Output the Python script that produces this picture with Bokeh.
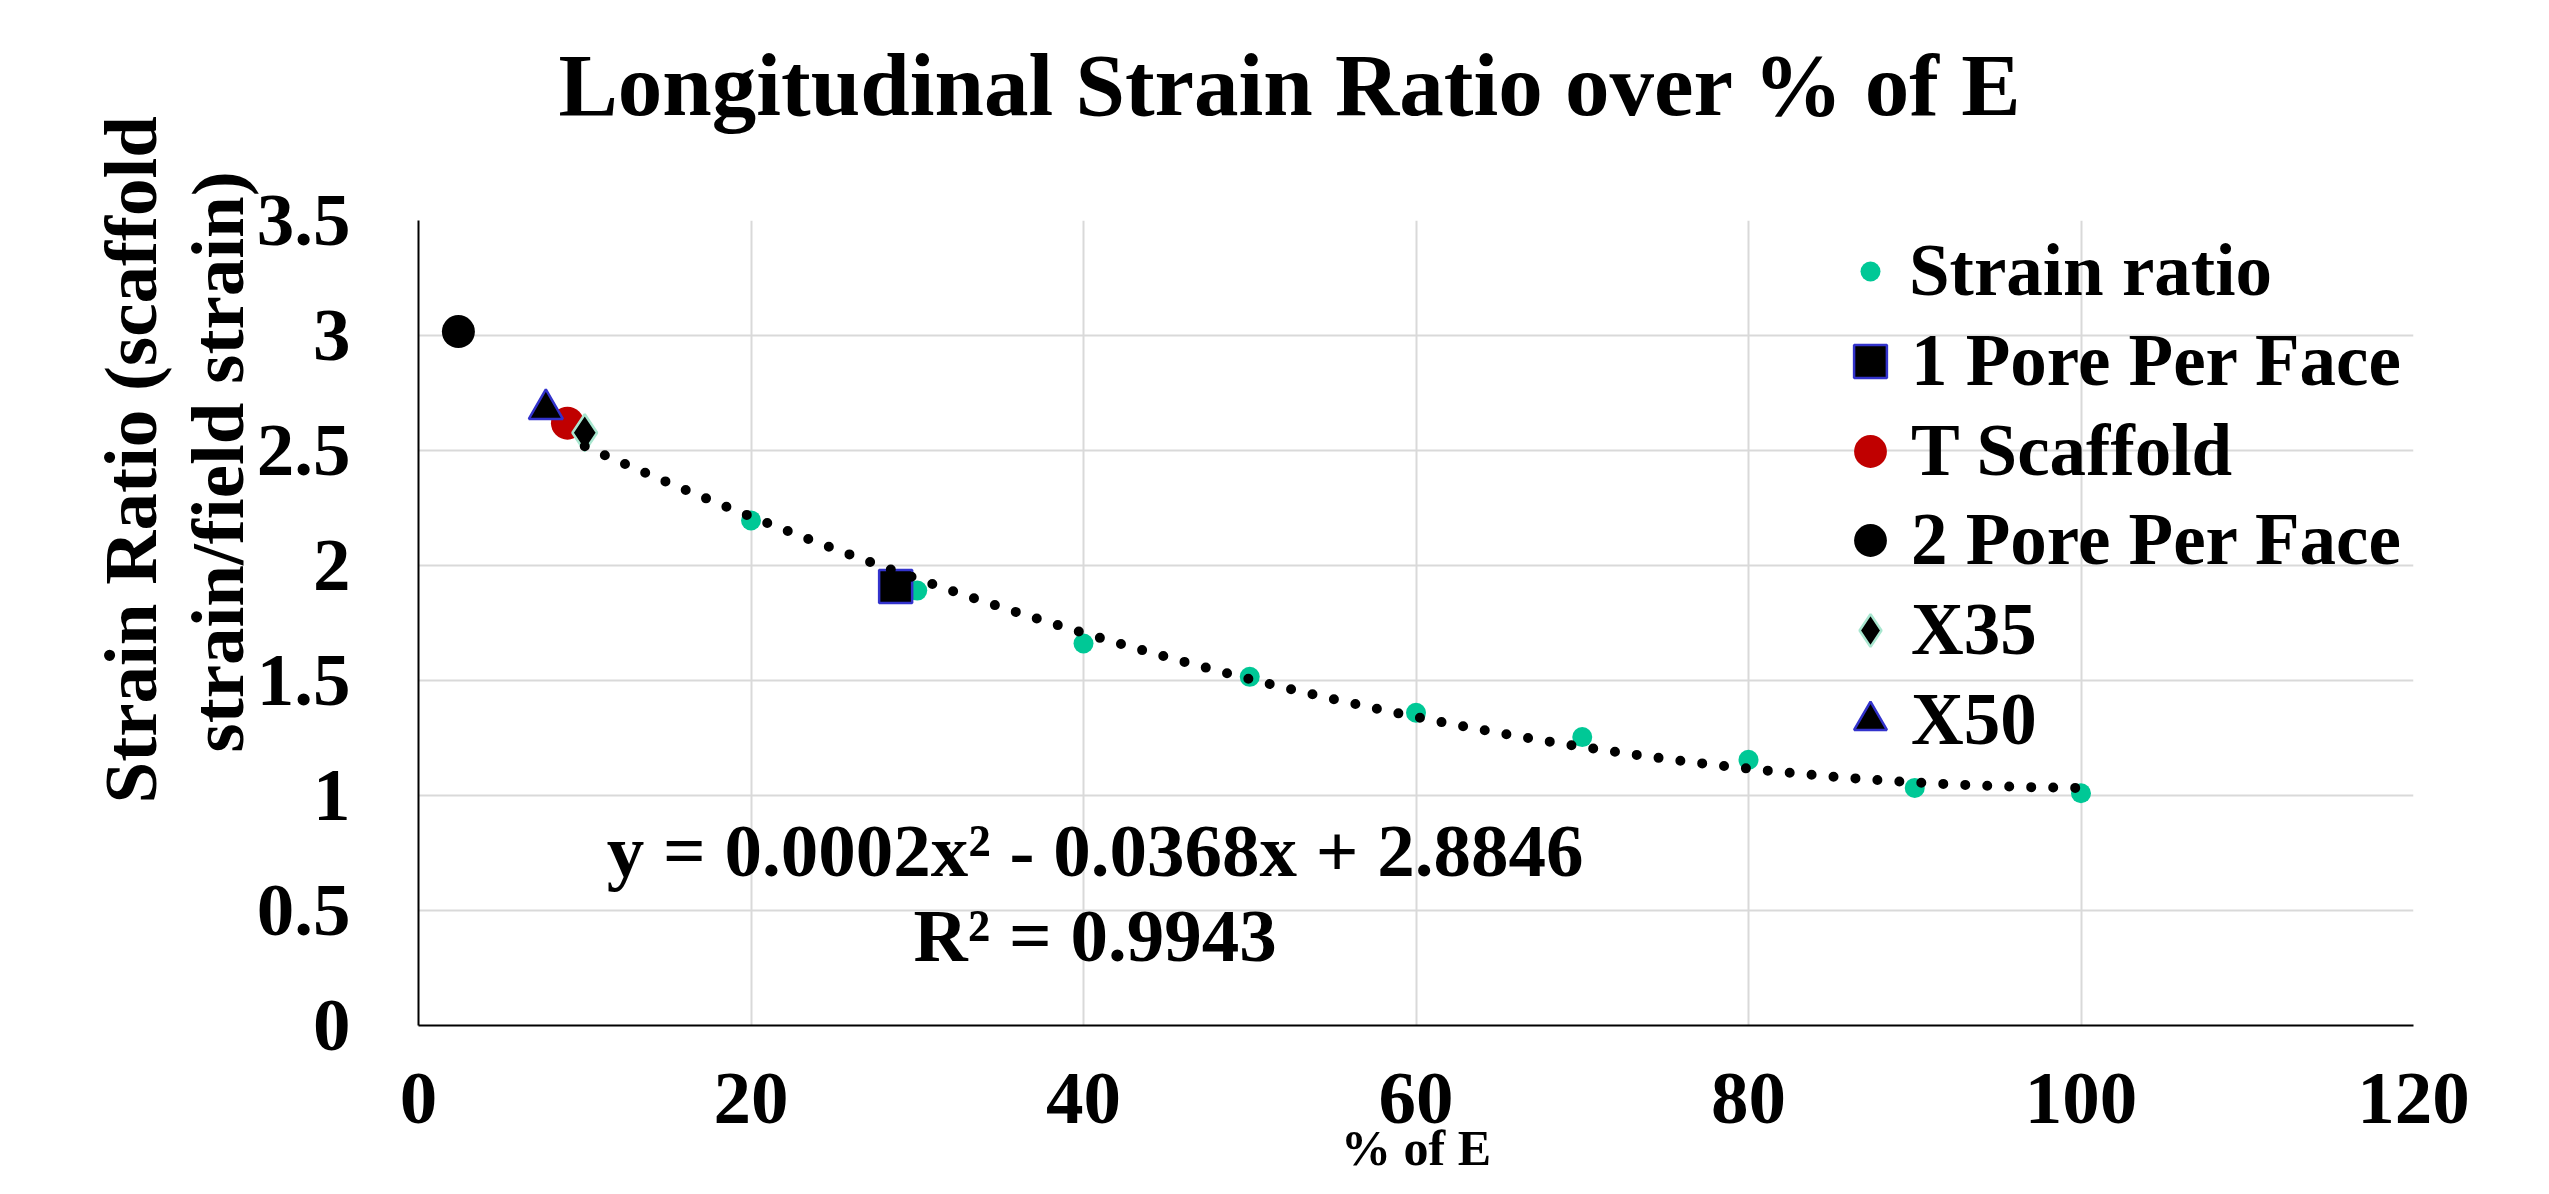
import numpy as np
from bokeh.plotting import figure
from bokeh.models import (Range1d, FixedTicker, Label, Legend, LegendItem,
                          NumeralTickFormatter, Title)
from bokeh.embed import file_html
from bokeh.resources import INLINE

# ---------------- data ----------------
pct_e = [10, 20, 30, 40, 50, 60, 70, 80, 90, 100]
strain_ratio = [2.57, 2.196, 1.891, 1.661, 1.516, 1.360, 1.254, 1.155, 1.033, 1.010]

one_pore_x = [28.7]
one_pore_y = [1.909]
t_scaffold_x = [8.96]
t_scaffold_y = [2.619]
two_pore_x = [2.4]
two_pore_y = [3.017]
x35_x = [10.0]
x35_y = [2.577]
x50_x = [7.66]
x50_y = [2.68]

x_ticks = [0, 20, 40, 60, 80, 100, 120]
x_tick_labels = ["0", "20", "40", "60", "80", "100", "120"]
y_ticks = [0, 0.5, 1, 1.5, 2, 2.5, 3, 3.5]
y_tick_labels = ["0", "0.5", "1", "1.5", "2", "2.5", "3", "3.5"]

title_text = "Longitudinal Strain Ratio over % of E"
x_title = "% of E"
y_title_lines = ["Strain Ratio (scaffold", "strain/field strain)"]
eq_lines = ["y = 0.0002x\u00b2 - 0.0368x + 2.8846", "R\u00b2 = 0.9943"]
legend_labels = ["Strain ratio", "1 Pore Per Face", "T Scaffold",
                 "2 Pore Per Face", "X35", "X50"]

# ---------------- figure ----------------
FONT = "Liberation Serif"
p = figure(width=2533, height=1178, output_backend="svg", toolbar_location=None,
           title=None,
           x_range=Range1d(0, 120), y_range=Range1d(0, 3.5),
           min_border_left=418, min_border_right=120,
           min_border_top=220, min_border_bottom=153)
p.outline_line_color = None
p.background_fill_color = "white"
p.border_fill_color = "white"

p.xaxis.ticker = FixedTicker(ticks=x_ticks)
p.yaxis.ticker = FixedTicker(ticks=y_ticks)
p.xgrid.ticker = FixedTicker(ticks=x_ticks)
p.ygrid.ticker = FixedTicker(ticks=y_ticks)
p.yaxis.formatter = NumeralTickFormatter(format="0.[0]")
p.xaxis.major_label_overrides = {t: l for t, l in zip(x_ticks, x_tick_labels)}
p.yaxis.major_label_overrides = {t: l for t, l in zip(y_ticks, y_tick_labels)}

for ax in (p.xaxis[0], p.yaxis[0]):
    ax.axis_line_color = "black"
    ax.axis_line_width = 2
    ax.major_tick_line_color = None
    ax.minor_tick_line_color = None
    ax.major_tick_out = 0
    ax.major_tick_in = 0
    ax.minor_tick_out = 0
    ax.minor_tick_in = 0
    ax.major_label_text_font = FONT
    ax.major_label_text_font_size = "75px"
    ax.major_label_text_font_style = "bold"
    ax.major_label_text_color = "black"
p.yaxis.major_label_standoff = 68
p.xaxis.major_label_standoff = 48

# x axis title (kept inside the window)
p.xaxis.axis_label = x_title
p.xaxis.axis_label_text_font = FONT
p.xaxis.axis_label_text_font_size = "50px"
p.xaxis.axis_label_text_font_style = "bold"
p.xaxis.axis_label_text_color = "black"
p.xaxis.axis_label_standoff = -6

for g in (p.xgrid[0], p.ygrid[0]):
    g.grid_line_color = "#d9d9d9"
    g.grid_line_width = 2

# blank spacer between the frame and the chart title, then the title
p.add_layout(Title(text=" ", standoff=74, text_font=FONT, text_font_size="10px",
                   text_color="white"), "above")
p.add_layout(Title(text=title_text, align="left", offset=140, standoff=0,
                   vertical_align="bottom", text_font=FONT, text_font_size="89px",
                   text_font_style="bold", text_color="black"), "above")

# y axis title, two lines (line 2 is nearest to the axis)
p.add_layout(Title(text=y_title_lines[1], align="left", offset=273, standoff=-10,
                   vertical_align="bottom", text_font=FONT, text_font_size="75px",
                   text_font_style="bold", text_color="black"), "left")
p.add_layout(Title(text=y_title_lines[0], align="left", offset=222, standoff=14,
                   vertical_align="bottom", text_font=FONT, text_font_size="75px",
                   text_font_style="bold", text_color="black"), "left")

# ---------------- series ----------------
r_sr = p.scatter(pct_e, strain_ratio, marker="circle", size=20,
                 fill_color="#00C896", line_color=None)
r_1p = p.scatter(one_pore_x, one_pore_y, marker="square", size=33,
                 fill_color="black", line_color="#3333CC", line_width=2.5)
r_ts = p.scatter(t_scaffold_x, t_scaffold_y, marker="circle", size=33,
                 fill_color="#C00000", line_color=None)
r_2p = p.scatter(two_pore_x, two_pore_y, marker="circle", size=33,
                 fill_color="black", line_color=None)
r_35 = p.scatter(x35_x, x35_y, marker="diamond", size=37,
                 fill_color="black", line_color="#A8E6CF", line_width=2.5)
r_50 = p.scatter(x50_x, x50_y, marker="triangle", size=34,
                 fill_color="black", line_color="#3333CC", line_width=2.5)

# polynomial (order 2) trendline fitted to the strain ratio series
coef = np.polyfit(pct_e, strain_ratio, 2)
trend_x = np.linspace(min(pct_e), max(pct_e), 300)
trend_y = np.polyval(coef, trend_x)
p.line(trend_x, trend_y, line_color="black", line_width=10,
       line_dash="0 22", line_cap="round")

# ---------------- equation texts ----------------
def add_label(x, y, text, size):
    p.add_layout(Label(x=x, y=y, text=text, text_font=FONT, text_font_size=size,
                       text_font_style="bold", text_color="black",
                       text_align="center", text_baseline="alphabetic"))

add_label(40.7, 0.761, eq_lines[0], "75px")
add_label(40.7, 0.391, eq_lines[1], "75px")

# ---------------- legend ----------------
renderers = [r_sr, r_1p, r_ts, r_2p, r_35, r_50]
glyph_widths = [50, 82, 82, 82, 82, 82]
for i, (lbl, rr, gw) in enumerate(zip(legend_labels, renderers, glyph_widths)):
    yc = 271 + 89.8 * i
    leg = Legend(items=[LegendItem(label=lbl, renderers=[rr])],
                 location=(1452 - gw // 2, int(round(980 - yc))),
                 orientation="vertical", glyph_width=gw, glyph_height=90,
                 label_height=90, padding=0, spacing=0, margin=0,
                 label_standoff=max(0, 39 - gw // 2),
                 border_line_color=None, background_fill_alpha=0,
                 label_text_font=FONT, label_text_font_size="73px",
                 label_text_font_style="bold", label_text_color="black")
    p.add_layout(leg)

open("out.html", "w").write(file_html(p, INLINE))
